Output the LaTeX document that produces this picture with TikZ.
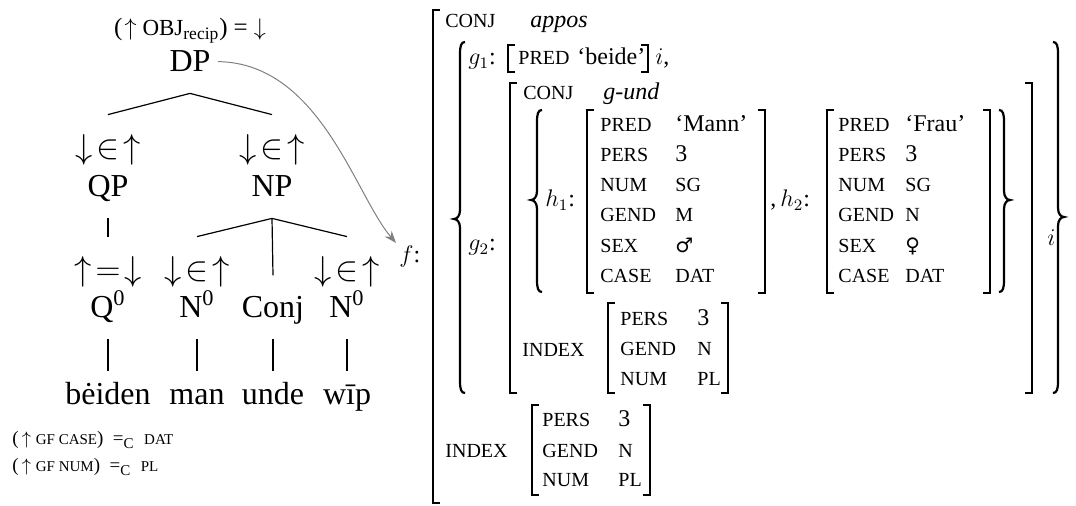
\documentclass[tikz,border=0pt]{standalone}
\usepackage{fontspec}
\setmainfont{Liberation Serif}
\newfontfamily\symfnt{DejaVu Sans}
\usetikzlibrary{arrows.meta}
\tikzset{
 treefont/.style={font=\fontsize{16}{19}\selectfont},
 cat/.style={treefont, inner xsep=0pt, inner ysep=10.5pt, text depth=0pt, anchor=base},
 ann/.style={treefont, inner xsep=0pt, inner ysep=10pt, anchor=base},
 word/.style={treefont, inner xsep=0pt, inner ysep=10pt, anchor=base, text depth=0pt, text height=0.7em},
 edge/.style={line width=0.6pt},
 avm/.style={font=\fontsize{12}{14}\selectfont, inner sep=0pt, anchor=base west},
 brk/.style={line width=1.2pt},
 brc/.style={line width=1.1pt},
 note/.style={font=\fontsize{9.5}{11}\selectfont, inner sep=0pt, anchor=base west},
}
\newcommand\sca[1]{{\fontsize{10}{12}\selectfont #1}}
\newcommand\scn[1]{{\fontsize{7.5}{9}\selectfont #1}}
\newcommand\avmLbrk[3]{\draw[brk] ({#1+7},#2) -- (#1,#2) -- (#1,#3) -- ({#1+7},#3);}
\newcommand\avmRbrk[3]{\draw[brk] ({#1-7},#2) -- (#1,#2) -- (#1,#3) -- ({#1-7},#3);}
\newcommand\avmLbrace[4]{\draw[brc] ({#1+5},#2) .. controls ({#1+1},#2) and (#1,{#2+4}) .. (#1,{#2+12}) -- (#1,{#3-9}) .. controls (#1,{#3-3}) and ({#1-3},#3) .. ({#1-6},#3) .. controls ({#1-3},#3) and (#1,{#3+3}) .. (#1,{#3+9}) -- (#1,{#4-12}) .. controls (#1,{#4-4}) and ({#1+1},#4) .. ({#1+5},#4);}
\newcommand\avmRbrace[4]{\draw[brc] ({#1-5},#2) .. controls ({#1-1},#2) and (#1,{#2+4}) .. (#1,{#2+12}) -- (#1,{#3-9}) .. controls (#1,{#3-3}) and ({#1+3},#3) .. ({#1+6},#3) .. controls ({#1+3},#3) and (#1,{#3+3}) .. (#1,{#3+9}) -- (#1,{#4-12}) .. controls (#1,{#4-4}) and ({#1-1},#4) .. ({#1-5},#4);}
\newcommand\dia{$\downarrow\mskip-3mu{\in}\mskip-3mu\uparrow$}
\begin{document}
\begin{tikzpicture}[x=0.5pt,y=-0.5pt]
\useasboundingbox (0,0) rectangle (1076,506);
% ---------- tree ----------
\node[ann, font=\fontsize{12.5}{15}\selectfont] (dpann) at (190,36) {(\kern1pt$\uparrow$\kern3pt{\fontsize{11.5}{13}\selectfont OBJ}\textsubscript{recip})\kern3pt=\kern3pt$\downarrow$};
\node[cat] (DP) at (190,72) {DP};
\node[ann] (qpann) at (108,159) {\dia};
\node[cat] (QP) at (108,197) {QP};
\node[ann] (npann) at (272,159) {\dia};
\node[cat] (NP) at (272,197) {NP};
\node[ann] (q0ann) at (108,281) {$\uparrow\mskip-3mu{=}\mskip-3mu\downarrow$};
\node[cat] (Q0) at (108,318) {Q\textsuperscript{0}};
\node[ann] (n1ann) at (197,281) {\dia};
\node[cat] (N1) at (197,318) {N\textsuperscript{0}};
\node[cat] (Conj) at (273,318) {Conj};
\node[ann] (n2ann) at (347,281) {\dia};
\node[cat] (N2) at (347,318) {N\textsuperscript{0}};
\node[word] (w1) at (108,405) {bėiden};
\node[word] (w2) at (197,405) {man};
\node[word] (w3) at (273,405) {unde};
\node[word] (w4) at (347,405) {wīp};
\draw[edge] (DP.south) -- (qpann.north);
\draw[edge] (DP.south) -- (npann.north);
\draw[edge] (QP.south) -- (q0ann.north);
\draw[edge] (NP.south) -- (n1ann.north);
\draw[edge] (NP.south) -- (Conj.north);
\draw[edge] (NP.south) -- (n2ann.north);
\draw[edge] (Q0.south) -- (w1.north);
\draw[edge] (N1.south) -- (w2.north);
\draw[edge] (Conj.south) -- (w3.north);
\draw[edge] (N2.south) -- (w4.north);
\node[note] (c1) at (12,445) {(\,$\uparrow$ \scn{GF CASE})\enspace=\textsubscript{\scn{C}}\enspace\scn{DAT}};
\node[note] (c2) at (12,472) {(\,$\uparrow$ \scn{GF NUM})\enspace=\textsubscript{\scn{C}}\enspace\scn{PL}};
% ---------- f-structure ----------
\node[avm, inner sep=1.5pt] (f) at (396,263) {$f$:};
\draw[gray, line width=0.5pt, shorten <=3.5pt, -{Stealth[length=6pt,width=4.5pt]}] (DP.east) .. controls (320,63) and (355,195) .. (f.north west);
\avmLbrk{433}{10}{503}
\node[avm] (conj0) at (445,28) {\sca{CONJ}};
\node[avm] (appos) at (530,28) {\textit{appos}};
\avmLbrace{460}{42}{219}{393}
\avmRbrace{1058}{42}{217}{393}
\node[avm] (g1) at (468,65) {$g_1$:};
\avmLbrk{508}{45}{72}
\node[avm] (pred0) at (518,65) {\sca{PRED}};
\node[avm] (beide) at (577,65) {‘beide’};
\avmRbrk{648}{45}{72}
\node[avm] (i1) at (655,65) {$i$,};
\node[avm] (g2) at (468,251) {$g_2$:};
\avmLbrk{510}{83}{393}
\avmRbrk{1032}{83}{393}
\node[avm] (conj1) at (523,100) {\sca{CONJ}};
\node[avm] (gund) at (603,100) {\textit{g-und}};
\avmLbrace{537}{110}{200}{292}
\avmRbrace{1004}{110}{200}{292}
\node[avm] (h1) at (545,207) {$h_1$:};
\avmLbrk{587}{110}{293}
\avmRbrk{765}{110}{293}
\foreach \y/\a/\v [count=\i] in {132/PRED/‘Mann’, 162/PERS/3, 192/NUM/\sca{SG}, 222/GEND/\sca{M}, 253/SEX/{\symfnt\fontsize{10}{12}\selectfont ♂}, 283/CASE/\sca{DAT}} {
  \node[avm] (h1a\i) at (600,\y) {\sca{\a}};
  \node[avm] (h1v\i) at (675,\y) {\v};
}
\node[avm] (h2) at (770,207) {,\,$h_2$:};
\avmLbrk{827}{110}{293}
\avmRbrk{990}{110}{293}
\foreach \y/\a/\v [count=\i] in {132/PRED/‘Frau’, 162/PERS/3, 192/NUM/\sca{SG}, 222/GEND/\sca{N}, 253/SEX/{\symfnt\fontsize{10}{12}\selectfont ♀}, 283/CASE/\sca{DAT}} {
  \node[avm] (h2a\i) at (838,\y) {\sca{\a}};
  \node[avm] (h2v\i) at (905,\y) {\v};
}
\node[avm] (idx1) at (522,357) {\sca{INDEX}};
\avmLbrk{608}{303}{393}
\avmRbrk{728}{303}{393}
\foreach \y/\a/\v [count=\i] in {326/PERS/3, 356/GEND/\sca{N}, 386/NUM/\sca{PL}} {
  \node[avm] (x1a\i) at (620,\y) {\sca{\a}};
  \node[avm] (x1v\i) at (697,\y) {\v};
}
\node[avm] (i2) at (1047,246) {$i$};
\node[avm] (idx2) at (445,458) {\sca{INDEX}};
\avmLbrk{532}{405}{495}
\avmRbrk{650}{405}{495}
\foreach \y/\a/\v [count=\i] in {427/PERS/3, 458/GEND/\sca{N}, 487/NUM/\sca{PL}} {
  \node[avm] (x2a\i) at (542,\y) {\sca{\a}};
  \node[avm] (x2v\i) at (618,\y) {\v};
}
\end{tikzpicture}
\end{document}
